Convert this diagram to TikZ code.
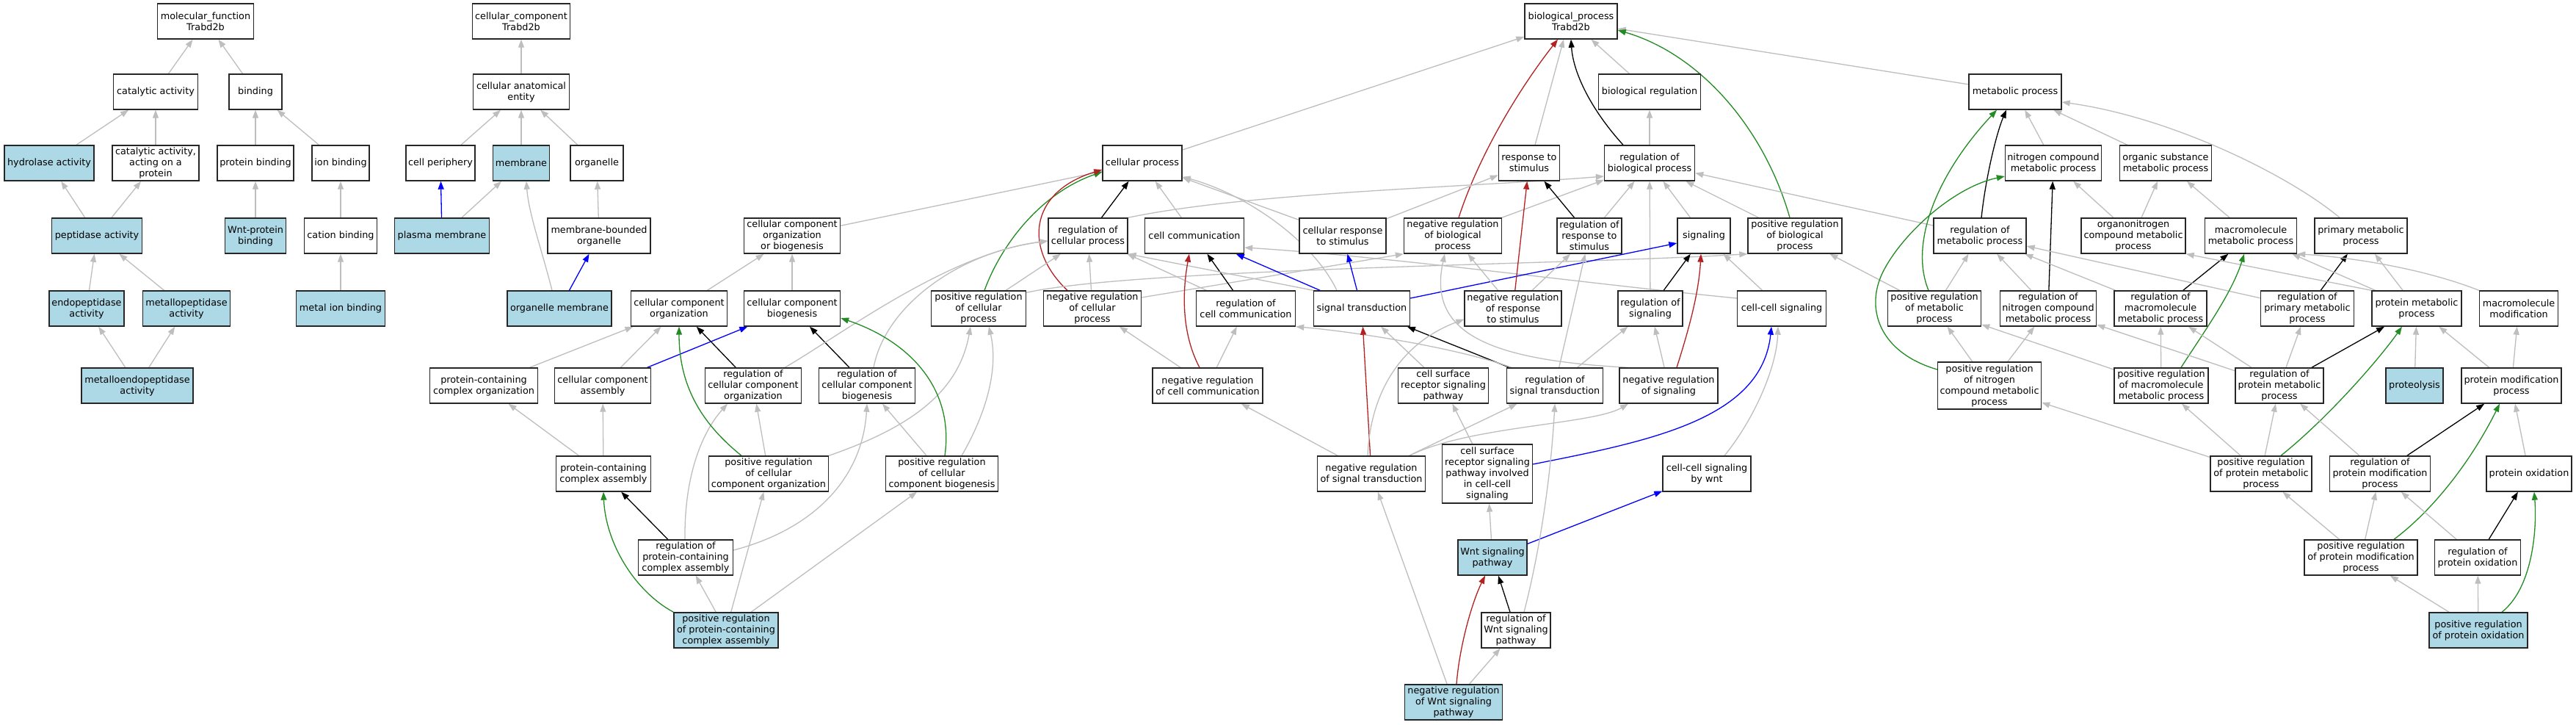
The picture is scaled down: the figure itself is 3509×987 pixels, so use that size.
\documentclass[tikz,border=0pt]{standalone}
\usepackage{fontspec}
\setmainfont{DejaVu Sans}
\usetikzlibrary{arrows.meta}
\definecolor{edgegray}{RGB}{190,190,190}
\definecolor{nodeblue}{RGB}{173,216,230}
\definecolor{negred}{RGB}{178,34,34}
\definecolor{posgreen}{RGB}{34,139,34}
\pgfdeclarelayer{bglayer}
\pgfdeclarelayer{edgelayer}
\pgfsetlayers{bglayer,edgelayer,main}
\tikzset{
 gobox/.style={draw=black!85, line width=1.4pt, fill=white, align=center, minimum height=48pt, inner xsep=2pt, inner ysep=2pt, font=\fontsize{12.8}{15}\selectfont},
 hitbox/.style={gobox, fill=nodeblue},
 arr/.style={-{Triangle[length=11pt,width=8pt]}, line width=1.3pt},
 isa/.style={arr, draw=edgegray},
 regl/.style={arr, draw=black},
 negreg/.style={arr, draw=negred},
 posreg/.style={arr, draw=posgreen},
 partof/.style={arr, draw=blue},
}
\begin{document}
\begin{tikzpicture}[x=1pt,y=-1pt]
\begin{pgfonlayer}{bglayer}
\fill[white] (0,0) rectangle (3509,987);
\end{pgfonlayer}
\useasboundingbox (0,0) rectangle (3509,987);
% row 1
\node[gobox,minimum width=131pt] (mf) at (280,29) {molecular\_function\\Trabd2b};
\node[gobox,minimum width=133pt] (cc) at (710,29) {cellular\_component\\Trabd2b};
\node[gobox,minimum width=126pt] (bp) at (2140,29) {biological\_process\\Trabd2b};
% row 2
\node[gobox,minimum width=115pt] (cat) at (212,125) {catalytic activity};
\node[gobox,minimum width=72pt] (bind) at (348,125) {binding};
\node[gobox,minimum width=131pt] (cae) at (710,125) {cellular anatomical\\entity};
\node[gobox,minimum width=139pt] (breg) at (2247,125) {biological regulation};
\node[gobox,minimum width=126pt] (metab) at (2745,125) {metabolic process};
% row 3
\node[hitbox,minimum width=122pt] (hyd) at (67,222) {hydrolase activity};
\node[gobox,minimum width=118pt] (catp) at (212,222) {catalytic activity,\\acting on a\\protein};
\node[gobox,minimum width=104pt] (pbind) at (348,222) {protein binding};
\node[gobox,minimum width=78pt] (ionb) at (464,222) {ion binding};
\node[gobox,minimum width=94pt] (cper) at (600,222) {cell periphery};
\node[hitbox,minimum width=77pt] (mem) at (710,222) {membrane};
\node[gobox,minimum width=72pt] (org) at (813,222) {organelle};
\node[gobox,minimum width=108pt] (cp) at (1556,222) {cellular process};
\node[gobox,minimum width=83pt] (rs) at (2083,222) {response to\\stimulus};
\node[gobox,minimum width=123pt] (rbp) at (2247,222) {regulation of\\biological process};
\node[gobox,minimum width=131pt] (ncmp) at (2797,222) {nitrogen compound\\metabolic process};
\node[gobox,minimum width=125pt] (osmp) at (2950,222) {organic substance\\metabolic process};
% row 4
\node[hitbox,minimum width=123pt] (pept) at (132,321) {peptidase activity};
\node[hitbox,minimum width=83pt] (wntb) at (348,321) {Wnt-protein\\binding};
\node[gobox,minimum width=99pt] (catb) at (464,321) {cation binding};
\node[hitbox,minimum width=129pt] (pm) at (602,321) {plasma membrane};
\node[gobox,minimum width=140pt] (mbo) at (816,321) {membrane-bounded\\organelle};
\node[gobox,minimum width=131pt] (ccob) at (1079,321) {cellular component\\organization\\or biogenesis};
\node[gobox,minimum width=108pt] (rcp) at (1482,321) {regulation of\\cellular process};
\node[gobox,minimum width=135pt] (ccom) at (1627,321) {cell communication};
\node[gobox,minimum width=118pt] (crs) at (1829,321) {cellular response\\to stimulus};
\node[gobox,minimum width=133pt] (nrbp) at (1979,321) {negative regulation\\of biological\\process};
\node[gobox,minimum width=88pt] (rrs) at (2165,321) {regulation of\\response to\\stimulus};
\node[gobox,minimum width=72pt] (sig) at (2321,321) {signaling};
\node[gobox,minimum width=128pt] (prbp) at (2445,321) {positive regulation\\of biological\\process};
\node[gobox,minimum width=126pt] (rmp) at (2697,321) {regulation of\\metabolic process};
\node[gobox,minimum width=142pt] (oncmp) at (2906,321) {organonitrogen\\compound metabolic\\process};
\node[gobox,minimum width=125pt] (mmp) at (3066,321) {macromolecule\\metabolic process};
\node[gobox,minimum width=126pt] (pmp) at (3216,321) {primary metabolic\\process};
% row 5
\node[hitbox,minimum width=102pt] (endo) at (118,420) {endopeptidase\\activity};
\node[hitbox,minimum width=119pt] (metp) at (254,420) {metallopeptidase\\activity};
\node[hitbox,minimum width=121pt] (mib) at (464,420) {metal ion binding};
\node[hitbox,minimum width=142pt] (om) at (762,420) {organelle membrane};
\node[gobox,minimum width=131pt] (cco) at (925,420) {cellular component\\organization};
\node[gobox,minimum width=131pt] (ccb) at (1079,420) {cellular component\\biogenesis};
\node[gobox,minimum width=129pt] (prcp) at (1333,420) {positive regulation\\of cellular\\process};
\node[gobox,minimum width=133pt] (nrcp) at (1488,420) {negative regulation\\of cellular\\process};
\node[gobox,minimum width=135pt] (rcc) at (1697,420) {regulation of\\cell communication};
\node[gobox,minimum width=131pt] (st) at (1855,420) {signal transduction};
\node[gobox,minimum width=132pt] (nrrs) at (2061,420) {negative regulation\\of response\\to stimulus};
\node[gobox,minimum width=88pt] (rsig) at (2248,420) {regulation of\\signaling};
\node[gobox,minimum width=121pt] (ccs) at (2427,420) {cell-cell signaling};
\node[gobox,minimum width=127pt] (prmp) at (2635,420) {positive regulation\\of metabolic\\process};
\node[gobox,minimum width=131pt] (rncmp) at (2790,420) {regulation of\\nitrogen compound\\metabolic process};
\node[gobox,minimum width=126pt] (rmmp) at (2943,420) {regulation of\\macromolecule\\metabolic process};
\node[gobox,minimum width=127pt] (rpmp) at (3143,420) {regulation of\\primary metabolic\\process};
\node[gobox,minimum width=122pt] (protmp) at (3292,420) {protein metabolic\\process};
\node[gobox,minimum width=107pt] (mmod) at (3431,420) {macromolecule\\modification};
% row 6
\node[hitbox,minimum width=152pt] (meto) at (187,525) {metalloendopeptidase\\activity};
\node[gobox,minimum width=147pt] (pcco) at (659,525) {protein-containing\\complex organization};
\node[gobox,minimum width=131pt] (cca) at (821,525) {cellular component\\assembly};
\node[gobox,minimum width=131pt] (rcco) at (1026,525) {regulation of\\cellular component\\organization};
\node[gobox,minimum width=131pt] (rccb) at (1181,525) {regulation of\\cellular component\\biogenesis};
\node[gobox,minimum width=150pt] (nrcc) at (1645,525) {negative regulation\\of cell communication};
\node[gobox,minimum width=123pt] (csrsp) at (1966,525) {cell surface\\receptor signaling\\pathway};
\node[gobox,minimum width=131pt] (rst) at (2118,525) {regulation of\\signal transduction};
\node[gobox,minimum width=134pt] (nrsig) at (2273,525) {negative regulation\\of signaling};
\node[gobox,minimum width=141pt,minimum height=64pt] (prncmp) at (2710,525) {positive regulation\\of nitrogen\\compound metabolic\\process};
\node[gobox,minimum width=128pt] (prmmp) at (2944,525) {positive regulation\\of macromolecule\\metabolic process};
\node[gobox,minimum width=120pt] (rprmp) at (3105,525) {regulation of\\protein metabolic\\process};
\node[hitbox,minimum width=78pt] (prot) at (3289,525) {proteolysis};
\node[gobox,minimum width=136pt] (pmod) at (3421,525) {protein modification\\process};
% row 7
\node[gobox,minimum width=129pt] (pcca) at (822,645) {protein-containing\\complex assembly};
\node[gobox,minimum width=163pt] (prcco) at (1047,645) {positive regulation\\of cellular\\component organization};
\node[gobox,minimum width=153pt] (prccb) at (1283,645) {positive regulation\\of cellular\\component biogenesis};
\node[gobox,minimum width=147pt] (nrst) at (1868,645) {negative regulation\\of signal transduction};
\node[gobox,minimum width=123pt,minimum height=80pt] (csrsc) at (2026,645) {cell surface\\receptor signaling\\pathway involved\\in cell-cell\\signaling};
\node[gobox,minimum width=120pt] (ccsw) at (2325,645) {cell-cell signaling\\by wnt};
\node[gobox,minimum width=138pt] (prpmp) at (3080,645) {positive regulation\\of protein metabolic\\process};
\node[gobox,minimum width=137pt] (rpmod) at (3242,645) {regulation of\\protein modification\\process};
\node[gobox,minimum width=116pt] (pox) at (3445,645) {protein oxidation};
% row 8
\node[gobox,minimum width=129pt] (rpcca) at (934,759) {regulation of\\protein-containing\\complex assembly};
\node[hitbox,minimum width=94pt] (wnt) at (2033,759) {Wnt signaling\\pathway};
\node[gobox,minimum width=154pt] (prpmod) at (3216,759) {positive regulation\\of protein modification\\process};
\node[gobox,minimum width=117pt] (rpox) at (3375,759) {regulation of\\protein oxidation};
% row 9
\node[hitbox,minimum width=142pt] (prpcca) at (989,858) {positive regulation\\of protein-containing\\complex assembly};
\node[gobox,minimum width=94pt] (rwnt) at (2065,858) {regulation of\\Wnt signaling\\pathway};
\node[hitbox,minimum width=134pt] (prpox) at (3376,858) {positive regulation\\of protein oxidation};
% row 10
\node[hitbox,minimum width=133pt] (nrwnt) at (1980,956) {negative regulation\\of Wnt signaling\\pathway};

\begin{pgfonlayer}{edgelayer}
% molecular function
\draw[isa] (cat) -- (mf);
\draw[isa] (bind) -- (mf);
\draw[isa] (hyd) -- (cat);
\draw[isa] (catp) -- (cat);
\draw[isa] (pbind) -- (bind);
\draw[isa] (ionb) -- (bind);
\draw[isa] (pept) -- (hyd);
\draw[isa] (pept) -- (catp);
\draw[isa] (wntb) -- (pbind);
\draw[isa] (catb) -- (ionb);
\draw[isa] (endo) -- (pept);
\draw[isa] (metp) -- (pept);
\draw[isa] (mib) -- (catb);
\draw[isa] (meto) -- (endo);
\draw[isa] (meto) -- (metp);
% cellular component
\draw[isa] (cae) -- (cc);
\draw[isa] (cper) -- (cae);
\draw[isa] (mem) -- (cae);
\draw[isa] (org) -- (cae);
\draw[partof] (pm) -- (cper);
\draw[isa] (pm) -- (mem);
\draw[isa] (mbo) -- (org);
\draw[isa] ([xshift=-10pt]om.north) .. controls (738,340) and (720,290) .. ([xshift=7pt]mem.south);
\draw[partof] (om) -- (mbo);
% biological process top
\draw[isa] (breg) -- (bp);
\draw[isa] (metab) -- (bp);
\draw[isa] (cp) -- (bp);
\draw[isa] ([xshift=8pt]rs.north) -- ([xshift=-10pt]bp.south);
\draw[regl] ([xshift=-36pt]rbp.north) .. controls (2168,150) and (2143,100) .. (bp.south);
\draw[negreg] ([xshift=8pt]nrbp.north) .. controls (2015,210) and (2070,120) .. ([xshift=-18pt]bp.south);
\draw[posreg] ([xshift=-7pt]prbp.north) .. controls (2405,180) and (2320,75) .. ([yshift=-12pt]bp.east);
\draw[isa] (rbp) -- (breg);
% cellular process
\draw[isa] (ccob) -- (cp);
\draw[regl] (rcp) -- (cp);
\draw[isa] (ccom) -- (cp);
\draw[isa] (crs) -- (cp);
\draw[isa] ([xshift=-34pt]st.north) .. controls (1790,330) and (1700,265) .. ([yshift=6pt]cp.south east);
\draw[posreg] ([xshift=8pt]prcp.north) .. controls (1365,330) and (1420,262) .. ([yshift=-12pt]cp.west);
\draw[negreg] ([xshift=-34pt]nrcp.north) .. controls (1395,340) and (1400,262) .. ([yshift=-9pt]cp.west);
\draw[isa] (rcp.north east) .. controls (1700,262) and (2000,255) .. ([yshift=-18pt]rbp.west);
% response / regulation
\draw[isa] (crs) -- (rs);
\draw[isa] (nrbp) -- (rbp);
\draw[regl] (rrs) -- (rs);
\draw[isa] (rrs) -- (rbp);
\draw[isa] (sig) -- (rbp);
\draw[isa] (prbp) -- (rbp);
\draw[isa] (rsig) -- (rbp);
\draw[isa] (rmp) -- (rbp);
\draw[isa] (prmp) -- (prbp);
\draw[isa] ([yshift=-3pt]prcp.north east) .. controls (1550,365) and (2150,360) .. (prbp.south west);
\draw[isa] ([yshift=14pt]ccs.west) .. controls (2150,385) and (1900,350) .. ([yshift=-16pt]ccom.east);
\draw[isa] (ccs) -- (sig);
\draw[isa] (nrcp) -- (rcp);
\draw[isa] ([yshift=15pt]nrcp.east) -- (nrbp.south west);
\draw[isa] (prcp) -- (rcp);
\draw[isa] (rcc) -- (rcp);
\draw[regl] (rcc) -- (ccom);
\draw[isa] (st.north west) -- (rcp.south east);
\draw[partof] (st) -- (ccom);
\draw[partof] (st) -- (crs);
\draw[partof] ([yshift=14pt]st.east) -- ([yshift=-10pt]sig.west);
\draw[negreg] (nrrs) -- (rs);
\draw[isa] (nrrs) -- (rrs);
\draw[isa] (nrrs) -- (nrbp);
\draw[regl] (rsig) -- (sig);
\draw[negreg] ([xshift=11pt]nrsig.north) .. controls (2300,450) and (2314,400) .. ([xshift=-4pt]sig.south);
\draw[isa] (nrsig) -- (rsig);
\draw[isa] ([xshift=-56pt]nrsig.north) .. controls (2020,490) and (1945,450) .. ([xshift=-11pt]nrbp.south);
% signal transduction
\draw[regl] (rst) -- (st);
\draw[isa] ([xshift=-59pt]rst.north) .. controls (1990,475) and (1850,452) .. (rcc.south east);
\draw[isa] (rst) -- (rrs);
\draw[isa] (rst) -- (rsig);
\draw[negreg] (nrst) -- (st);
\draw[isa] (nrst) -- (nrcc);
\draw[isa] ([xshift=-5pt]nrst.north) .. controls (1866,545) and (1900,470) .. ([yshift=10pt]nrrs.south west);
\draw[isa] (nrst) -- (rst);
\draw[isa] ([xshift=52pt]nrst.north) .. controls (2000,580) and (2170,578) .. ([xshift=-55pt]nrsig.south);
\draw[isa] (csrsp) -- (st);
\draw[isa] (csrsc) -- (csrsp);
\draw[partof] ([yshift=13pt]csrsc.east) .. controls (2250,600) and (2400,570) .. ([xshift=-14pt]ccs.south);
\draw[isa] ([xshift=24pt]ccsw.north) .. controls (2390,570) and (2420,500) .. ([xshift=-5pt]ccs.south);
\draw[isa] (wnt) -- (csrsc);
\draw[partof] (wnt) -- (ccsw);
\draw[regl] (rwnt) -- (wnt);
\draw[isa] ([xshift=11pt]rwnt.north) .. controls (2100,740) and (2113,640) .. (rst.south);
\draw[negreg] ([xshift=4pt]nrwnt.north) .. controls (1988,880) and (2005,820) .. ([xshift=-10pt]wnt.south);
\draw[isa] (nrwnt) -- (rwnt);
\draw[isa] (nrwnt) -- (nrst);
\draw[isa] (nrcc) -- (rcc);
\draw[negreg] ([xshift=-11pt]nrcc.north) .. controls (1610,455) and (1610,400) .. ([xshift=-7pt]ccom.south);
\draw[isa] (nrcc) -- (nrcp);
% cellular component organization
\draw[isa] (cco) -- (ccob);
\draw[isa] (ccb) -- (ccob);
\draw[isa] (pcco) -- (cco);
\draw[isa] (cca) -- (cco);
\draw[partof] (cca) -- (ccb);
\draw[isa] (pcca) -- (pcco);
\draw[isa] (pcca) -- (cca);
\draw[regl] (rcco) -- (cco);
\draw[regl] (rccb) -- (ccb);
\draw[isa] ([xshift=43pt]rcco.north) .. controls (1140,460) and (1290,345) .. ([yshift=-7pt]rcp.west);
\draw[isa] ([xshift=9pt]rccb.north) .. controls (1205,420) and (1300,345) .. ([yshift=-7pt]rcp.west);
\draw[regl] (rpcca) -- (pcca);
\draw[isa] ([xshift=-1pt]rpcca.north) .. controls (932,650) and (955,590) .. ([xshift=-35pt]rcco.south);
\draw[isa] ([yshift=10pt]rpcca.east) .. controls (1110,720) and (1175,650) .. (rccb.south);
\draw[isa] (prcco) -- (rcco);
\draw[posreg] ([xshift=-37pt]prcco.north) .. controls (960,580) and (925,530) .. (cco.south);
\draw[isa] (prcco.north east) .. controls (1230,585) and (1305,540) .. ([xshift=-11pt]prcp.south);
\draw[isa] (prccb) -- (rccb);
\draw[posreg] ([xshift=4pt]prccb.north) .. controls (1300,530) and (1240,465) .. ([yshift=-13pt]ccb.east);
\draw[isa] ([xshift=27pt]prccb.north) .. controls (1345,560) and (1360,500) .. ([xshift=14pt]prcp.south);
\draw[isa] (prpcca) -- (rpcca);
\draw[isa] (prpcca) -- (prcco);
\draw[isa] (prpcca) -- (prccb);
\draw[posreg] (prpcca.north west) .. controls (865,805) and (825,740) .. (pcca.south);
% metabolism
\draw[isa] (ncmp) -- (metab);
\draw[isa] (osmp) -- (metab);
\draw[regl] ([xshift=2pt]rmp.north) .. controls (2705,240) and (2720,180) .. ([xshift=-12pt]metab.south);
\draw[posreg] ([xshift=-8pt]prmp.north) .. controls (2600,330) and (2640,235) .. ([xshift=-25pt]metab.south);
\draw[isa] (prmp) -- (rmp);
\draw[regl] (rncmp) -- (ncmp);
\draw[isa] (rncmp) -- (rmp);
\draw[isa] (oncmp) -- (ncmp);
\draw[isa] (oncmp) -- (osmp);
\draw[isa] (mmp) -- (osmp);
\draw[isa] ([xshift=-29pt]pmp.north) .. controls (3120,240) and (2960,160) .. ([yshift=-14pt]metab.east);
\draw[isa] (rmmp) -- (rmp);
\draw[regl] (rmmp) -- (mmp);
\draw[isa] (rpmp) -- (rmp);
\draw[regl] (rpmp) -- (pmp);
\draw[isa] (protmp) -- (mmp);
\draw[isa] (protmp.north west) -- (oncmp.south east);
\draw[isa] (protmp) -- (pmp);
\draw[isa] (mmod.north west) .. controls (3300,365) and (3200,350) .. (mmp.south east);
\draw[isa] (prncmp) -- (rncmp);
\draw[isa] (prncmp) -- (prmp);
\draw[posreg] ([yshift=22pt]prncmp.west) .. controls (2560,480) and (2540,420) .. (2565,370) .. controls (2590,320) and (2660,255) .. ([yshift=-18pt]ncmp.west);
\draw[isa] (prmmp) -- (rmmp);
\draw[isa] (prmmp) -- (prmp);
\draw[posreg] ([xshift=27pt]prmmp.north) .. controls (3000,455) and (3040,400) .. ([xshift=-9pt]mmp.south);
\draw[isa] (rprmp) -- (rpmp);
\draw[regl] (rprmp) -- (protmp);
\draw[isa] (rprmp) -- (rmmp);
\draw[isa] (rprmp) -- (rncmp);
\draw[isa] (prot) -- (protmp);
\draw[isa] (pmod) -- (protmp);
\draw[isa] (pmod) -- (mmod);
\draw[isa] (prpmp) -- (rprmp);
\draw[isa] (prpmp) -- (prmmp);
\draw[isa] (prpmp) -- (prncmp);
\draw[posreg] ([xshift=27pt]prpmp.north) .. controls (3170,570) and (3240,490) .. ([xshift=-20pt]protmp.south);
\draw[isa] (rpmod) -- (rprmp);
\draw[regl] (rpmod) -- (pmod);
\draw[isa] (pox) -- (pmod);
\draw[isa] (prpmod) -- (prpmp);
\draw[isa] (prpmod) -- (rpmod);
\draw[posreg] ([xshift=45pt]prpmod.north) .. controls (3320,690) and (3370,620) .. ([xshift=-16pt]pmod.south);
\draw[isa] (rpox) -- (rpmod);
\draw[regl] (rpox) -- (pox);
\draw[isa] (prpox) -- (prpmod);
\draw[isa] (prpox) -- (rpox);
\draw[posreg] ([xshift=32pt]prpox.north) .. controls (3450,800) and (3456,720) .. ([xshift=7pt]pox.south);
\end{pgfonlayer}
\end{tikzpicture}
\end{document}
